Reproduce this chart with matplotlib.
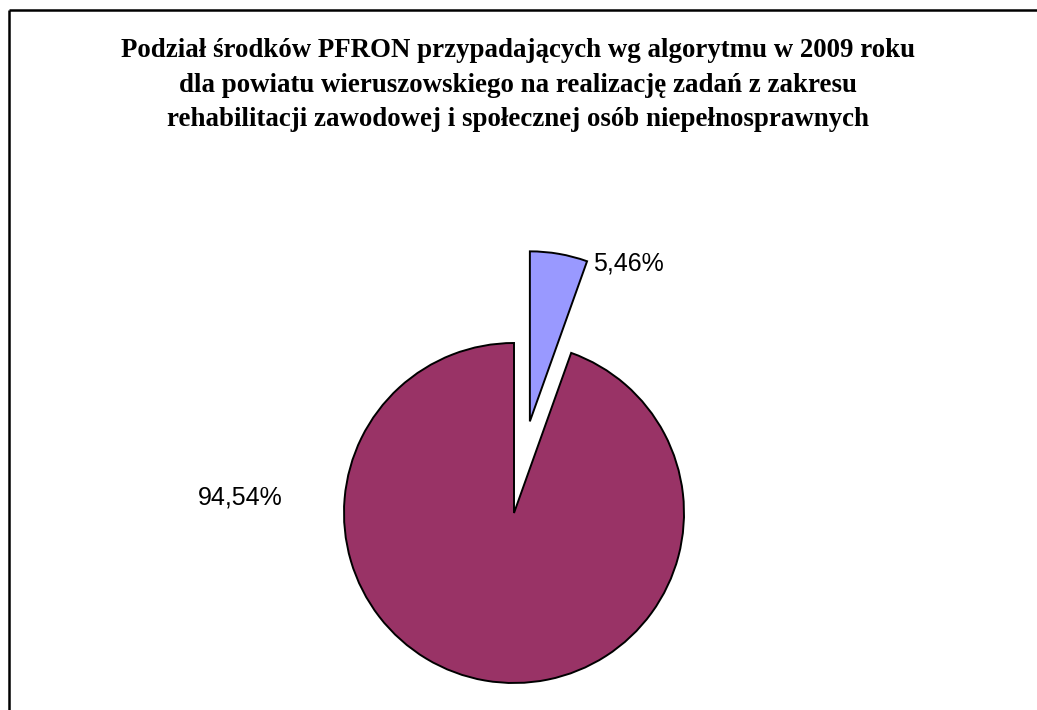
import matplotlib.pyplot as plt

# --- Data ---
categories = ["Rehabilitacja zawodowa", "Rehabilitacja społeczna"]
shares = [5.46, 94.54]
colors = ["#9999FF", "#993366"]

title = ("Podział środków PFRON przypadających wg algorytmu w 2009 roku\n"
         "dla powiatu wieruszowskiego na realizację zadań z zakresu\n"
         "rehabilitacji zawodowej i społecznej osób niepełnosprawnych")

W, H = 1037, 710
fig = plt.figure(figsize=(W / 100, H / 100), dpi=100)
ax = fig.add_axes([0, 0, 1, 1])

# pie in pixel coordinates (y measured from bottom)
cx, cy, r = 514, H - 513, 170
wedges, _ = ax.pie(shares, colors=colors, startangle=90, counterclock=False,
                   explode=[93, 0], center=(cx, cy), radius=r,
                   wedgeprops=dict(edgecolor='black', linewidth=1.4),
                   frame=True)
ax.set_xlim(0, W)
ax.set_ylim(0, H)
ax.set_aspect('equal')
ax.axis('off')

# percentage labels
fmt = lambda v: f"{v:.2f}%".replace('.', ',')
ax.text(593, H - 263, fmt(shares[0]), ha='left', va='center',
        fontsize=18, family='Liberation Sans')
ax.text(240, H - 497, fmt(shares[1]), ha='center', va='center',
        fontsize=18, family='Liberation Sans')

# title
ax.text(518, H - 85, title, ha='center', va='center', fontsize=19.4,
        fontweight='bold', family='Liberation Serif', linespacing=1.5)

# chart area border (left and top only, rest cropped)
ax.plot([9, 9], [0, H - 10], color='black', lw=1.8, solid_capstyle='butt')
ax.plot([9, W], [H - 10, H - 10], color='black', lw=1.8, solid_capstyle='butt')

fig.savefig("out.png", dpi=100, facecolor='white')
